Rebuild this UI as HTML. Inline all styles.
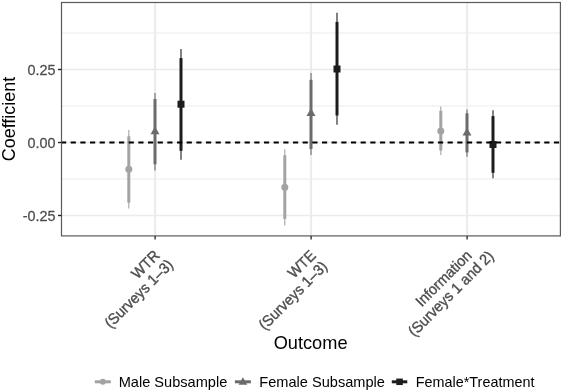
<!DOCTYPE html>
<html><head><meta charset="utf-8"><style>
html,body{margin:0;padding:0;background:#fff;width:563px;height:392px;overflow:hidden}
svg{display:block;font-family:"Liberation Sans",sans-serif;will-change:transform}
</style></head><body>
<div id="w"><svg width="563" height="392" viewBox="0 0 563 392">
<rect x="0" y="0" width="563" height="392" fill="#fff"/>
<line x1="61.5" x2="560.4" y1="33.00" y2="33.00" stroke="#ebebeb" stroke-width="1"/>
<line x1="61.5" x2="560.4" y1="106.00" y2="106.00" stroke="#ebebeb" stroke-width="1"/>
<line x1="61.5" x2="560.4" y1="179.00" y2="179.00" stroke="#ebebeb" stroke-width="1"/>
<line x1="61.5" x2="560.4" y1="69.50" y2="69.50" stroke="#ebebeb" stroke-width="1.7"/>
<line x1="61.5" x2="560.4" y1="142.50" y2="142.50" stroke="#ebebeb" stroke-width="1.7"/>
<line x1="61.5" x2="560.4" y1="215.50" y2="215.50" stroke="#ebebeb" stroke-width="1.7"/>
<line x1="155.10" x2="155.10" y1="2.5" y2="235.9" stroke="#ebebeb" stroke-width="2"/>
<line x1="311.10" x2="311.10" y1="2.5" y2="235.9" stroke="#ebebeb" stroke-width="2"/>
<line x1="467.10" x2="467.10" y1="2.5" y2="235.9" stroke="#ebebeb" stroke-width="2"/>
<line x1="128.80" x2="128.80" y1="130.0" y2="208.6" stroke="#a3a3a3" stroke-width="1.1"/>
<line x1="128.80" x2="128.80" y1="136.3" y2="202.5" stroke="#a3a3a3" stroke-width="3"/>
<circle cx="128.80" cy="169.20" r="3.5" fill="#a3a3a3"/>
<line x1="155.00" x2="155.00" y1="93.0" y2="170.4" stroke="#6b6b6b" stroke-width="1.1"/>
<line x1="155.00" x2="155.00" y1="99.0" y2="164.3" stroke="#6b6b6b" stroke-width="3"/>
<polygon points="155.00,126.50 159.50,134.30 150.50,134.30" fill="#6b6b6b"/>
<line x1="181.00" x2="181.00" y1="49.0" y2="159.8" stroke="#1c1c1c" stroke-width="1.1"/>
<line x1="181.00" x2="181.00" y1="58.1" y2="150.8" stroke="#1c1c1c" stroke-width="3"/>
<rect x="177.50" y="100.70" width="7.0" height="7.0" fill="#1c1c1c"/>
<line x1="284.80" x2="284.80" y1="149.2" y2="225.6" stroke="#a3a3a3" stroke-width="1.1"/>
<line x1="284.80" x2="284.80" y1="155.3" y2="218.9" stroke="#a3a3a3" stroke-width="3"/>
<circle cx="284.80" cy="187.20" r="3.5" fill="#a3a3a3"/>
<line x1="311.00" x2="311.00" y1="73.0" y2="155.1" stroke="#6b6b6b" stroke-width="1.1"/>
<line x1="311.00" x2="311.00" y1="79.8" y2="149.0" stroke="#6b6b6b" stroke-width="3"/>
<polygon points="311.00,108.30 315.50,116.10 306.50,116.10" fill="#6b6b6b"/>
<line x1="337.00" x2="337.00" y1="12.8" y2="124.8" stroke="#1c1c1c" stroke-width="1.1"/>
<line x1="337.00" x2="337.00" y1="21.9" y2="115.5" stroke="#1c1c1c" stroke-width="3"/>
<rect x="333.50" y="65.50" width="7.0" height="7.0" fill="#1c1c1c"/>
<line x1="440.80" x2="440.80" y1="106.4" y2="155.1" stroke="#a3a3a3" stroke-width="1.1"/>
<line x1="440.80" x2="440.80" y1="110.8" y2="150.5" stroke="#a3a3a3" stroke-width="3"/>
<circle cx="440.80" cy="130.90" r="3.5" fill="#a3a3a3"/>
<line x1="467.00" x2="467.00" y1="109.4" y2="156.7" stroke="#6b6b6b" stroke-width="1.1"/>
<line x1="467.00" x2="467.00" y1="113.3" y2="152.4" stroke="#6b6b6b" stroke-width="3"/>
<polygon points="467.00,127.80 471.50,135.60 462.50,135.60" fill="#6b6b6b"/>
<line x1="493.00" x2="493.00" y1="110.2" y2="178.2" stroke="#1c1c1c" stroke-width="1.1"/>
<line x1="493.00" x2="493.00" y1="116.1" y2="172.8" stroke="#1c1c1c" stroke-width="3"/>
<rect x="489.50" y="141.00" width="7.0" height="7.0" fill="#1c1c1c"/>
<line x1="61.5" x2="560.4" y1="142.5" y2="142.5" stroke="#000" stroke-width="1.8" stroke-dasharray="5.2 4.465" stroke-dashoffset="0.5"/>
<rect x="61.5" y="2.5" width="498.9" height="233.4" fill="none" stroke="#5a5a5a" stroke-width="1.2"/>
<line x1="58.0" x2="61.5" y1="69.50" y2="69.50" stroke="#262626" stroke-width="1.4"/>
<text transform="translate(55.60,74.65) scale(1,1.05)" text-anchor="end" font-size="14.4" fill="#4d4d4d" stroke="#4d4d4d" stroke-width="0.25">0.25</text>
<line x1="58.0" x2="61.5" y1="142.50" y2="142.50" stroke="#262626" stroke-width="1.4"/>
<text transform="translate(55.60,147.65) scale(1,1.05)" text-anchor="end" font-size="14.4" fill="#4d4d4d" stroke="#4d4d4d" stroke-width="0.25">0.00</text>
<line x1="58.0" x2="61.5" y1="215.50" y2="215.50" stroke="#262626" stroke-width="1.4"/>
<text transform="translate(55.60,220.65) scale(1,1.05)" text-anchor="end" font-size="14.4" fill="#4d4d4d" stroke="#4d4d4d" stroke-width="0.25">-0.25</text>
<line x1="155.10" x2="155.10" y1="235.9" y2="239.5" stroke="#262626" stroke-width="1.3"/>
<line x1="311.10" x2="311.10" y1="235.9" y2="239.5" stroke="#262626" stroke-width="1.3"/>
<line x1="467.10" x2="467.10" y1="235.9" y2="239.5" stroke="#262626" stroke-width="1.3"/>
<g transform="translate(153.60,248.0) rotate(-45)" fill="#4d4d4d" font-size="14.4"><text transform="translate(-1.00,11.00) scale(1,1.05)" text-anchor="end" font-size="14.4" fill="#4d4d4d" stroke="#4d4d4d" stroke-width="0.35">WTR</text><text transform="translate(1.90,26.90) scale(1,1.05)" text-anchor="end" font-size="14.4" fill="#4d4d4d" stroke="#4d4d4d" stroke-width="0.35">(Surveys 1–3)</text></g>
<g transform="translate(309.60,248.0) rotate(-45)" fill="#4d4d4d" font-size="14.4"><text transform="translate(-1.00,11.00) scale(1,1.05)" text-anchor="end" font-size="14.4" fill="#4d4d4d" stroke="#4d4d4d" stroke-width="0.35">WTE</text><text transform="translate(-0.60,26.90) scale(1,1.05)" text-anchor="end" font-size="14.4" fill="#4d4d4d" stroke="#4d4d4d" stroke-width="0.35">(Surveys 1–3)</text></g>
<g transform="translate(465.60,248.0) rotate(-45)" fill="#4d4d4d" font-size="14.4"><text transform="translate(-1.00,11.00) scale(1,1.05)" text-anchor="end" font-size="14.4" fill="#4d4d4d" stroke="#4d4d4d" stroke-width="0.35">Information</text><text transform="translate(14.10,26.90) scale(1,1.05)" text-anchor="end" font-size="14.4" fill="#4d4d4d" stroke="#4d4d4d" stroke-width="0.35">(Surveys 1 and 2)</text></g>
<text transform="translate(15.40,119.00) rotate(-90) scale(1,1.05)" text-anchor="middle" font-size="18" fill="#000">Coefficient</text>
<text transform="translate(310.60,349.20) scale(1,1.05)" text-anchor="middle" font-size="18.2" fill="#000">Outcome</text>
<line x1="94.8" x2="110.8" y1="381.8" y2="381.8" stroke="#a3a3a3" stroke-width="3"/><circle cx="102.80" cy="381.80" r="3.0" fill="#a3a3a3"/>
<text transform="translate(118.70,387.00) scale(1,1.05)" text-anchor="start" font-size="14.6" fill="#000">Male Subsample</text>
<line x1="234.9" x2="250.9" y1="381.8" y2="381.8" stroke="#6b6b6b" stroke-width="3"/><polygon points="242.90,377.20 247.23,384.70 238.57,384.70" fill="#6b6b6b"/>
<text transform="translate(259.30,387.00) scale(1,1.05)" text-anchor="start" font-size="14.6" fill="#000">Female Subsample</text>
<line x1="391.8" x2="407.3" y1="381.8" y2="381.8" stroke="#1c1c1c" stroke-width="3"/><rect x="396.30" y="378.55" width="6.5" height="6.5" fill="#1c1c1c"/>
<text transform="translate(415.80,387.00) scale(1,1.05)" text-anchor="start" font-size="14.4" fill="#000">Female*Treatment</text>
</svg></div>
</body></html>
